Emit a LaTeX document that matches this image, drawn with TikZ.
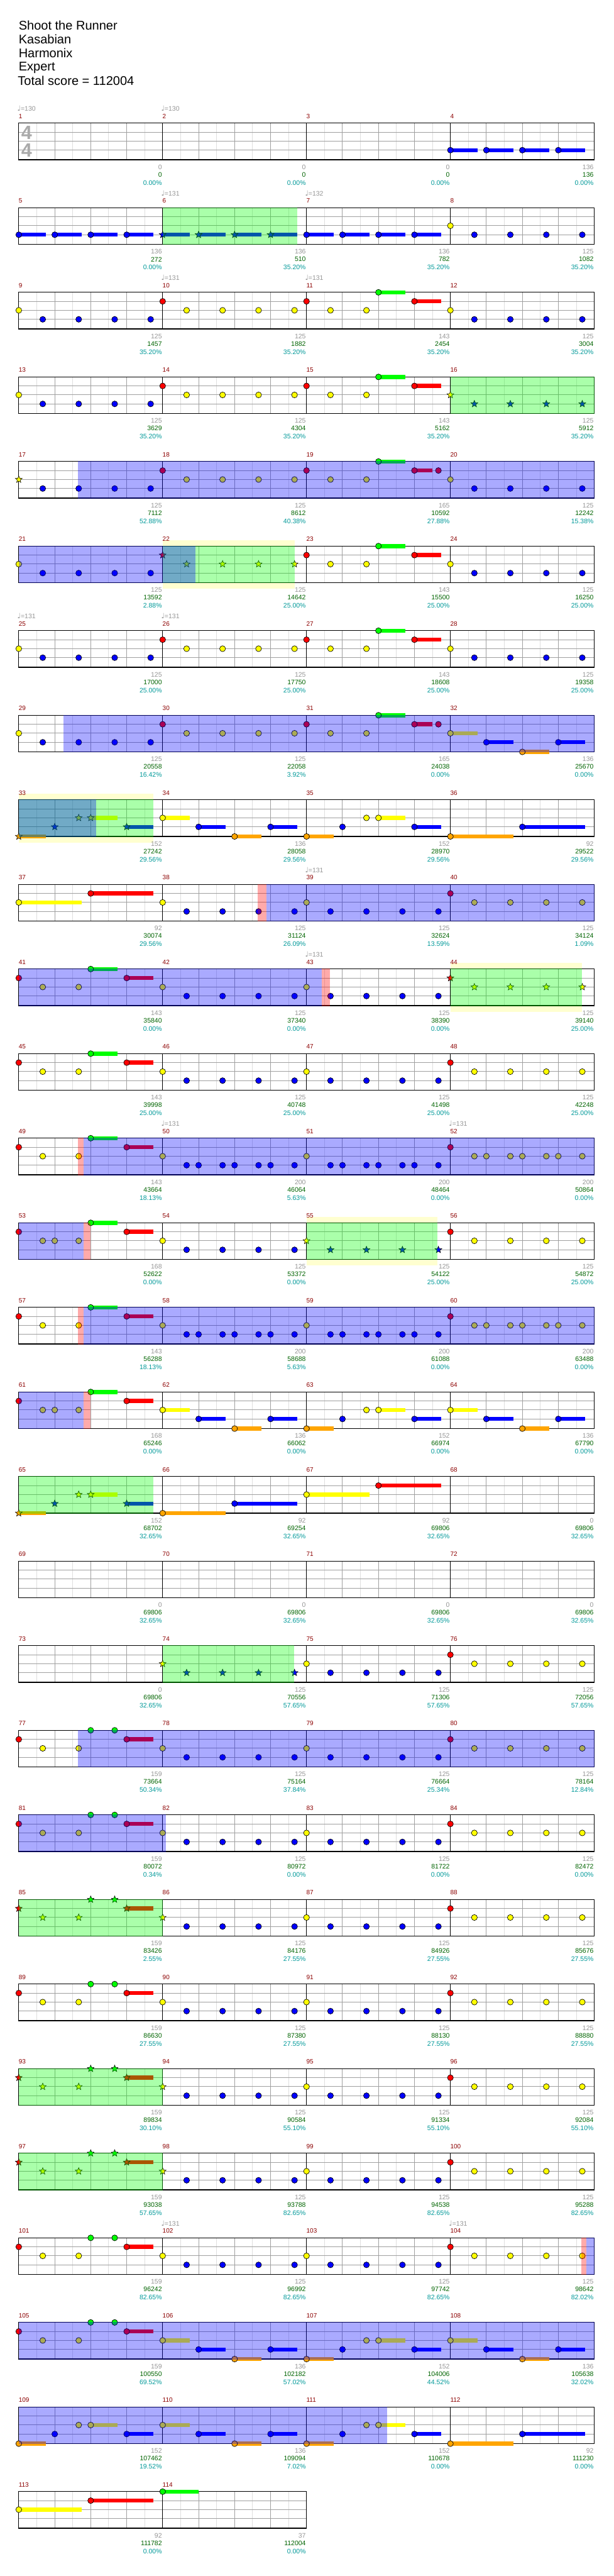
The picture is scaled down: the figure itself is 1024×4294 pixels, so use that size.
\documentclass[tikz,border=0pt]{standalone}
\usepackage{fontspec}
\setmainfont{Liberation Sans}
\newfontfamily\djv{DejaVu Sans}
\usetikzlibrary{shapes.geometric}
\definecolor{lane0}{RGB}{0,255,0}
\definecolor{lane1}{RGB}{255,0,0}
\definecolor{lane2}{RGB}{255,255,0}
\definecolor{lane3}{RGB}{0,0,255}
\definecolor{lane4}{RGB}{255,165,0}
\definecolor{gridg}{RGB}{160,160,160}
\definecolor{gridl}{RGB}{222,222,222}
\definecolor{mnum}{RGB}{140,0,0}
\definecolor{sgray}{RGB}{150,150,150}
\definecolor{sgreen}{RGB}{0,100,0}
\definecolor{steal}{RGB}{0,153,153}
\definecolor{yband}{RGB}{255,255,208}
\definecolor{tsig}{RGB}{170,170,170}
\tikzset{
  sctxt/.style={anchor=east,inner sep=0pt,font=\fontsize{11}{13}\selectfont},
  numtxt/.style={anchor=west,inner sep=0pt,text=mnum,font=\fontsize{10.5}{12}\selectfont},
  tmptxt/.style={anchor=west,inner sep=0pt,text=sgray,font=\fontsize{11}{12}\selectfont},
  ttl/.style={anchor=base west,inner sep=0pt,font=\fontsize{21}{25}\selectfont},
  starnote/.style={star,star points=5,star point ratio=2.3,minimum size=12pt,inner sep=0pt,draw=black,line width=0.6pt},
  ovl/.style={fill opacity=0.3333}
}
\newcommand\qpos[1]{%
  \pgfmathtruncatemacro\mrow{(#1-1)/4}%
  \pgfmathtruncatemacro\mcol{#1-1-4*\mrow}%
  \pgfmathsetmacro\MX{31.3+240*\mcol}%
  \pgfmathsetmacro\MY{205.3+141*\mrow}}
\newcommand\qlane[1]{\ifcase#1\relax\def\LO{0}\or\def\LO{15}\or\def\LO{30}\or\def\LO{45}\else\def\LO{61}\fi}
\newcommand\qnote[4]{%
  \qpos{#1}\qlane{#3}%
  \pgfmathsetmacro\NX{\MX+#2}\pgfmathsetmacro\NY{\MY+\LO}%
  \ifnum#4>0 \fill[lane#3] (\NX,\NY-3.35) rectangle ++(#4,6.7);\fi
  \filldraw[fill=lane#3,draw=black,line width=0.7pt] (\NX,\NY) circle[radius=4.9pt];}
\newcommand\qstar[4]{%
  \qpos{#1}\qlane{#3}%
  \pgfmathsetmacro\NX{\MX+#2}\pgfmathsetmacro\NY{\MY+\LO}%
  \ifnum#4>0 \fill[lane#3] (\NX,\NY-3.35) rectangle ++(#4,6.7);\fi
  \node[starnote,fill=lane#3] at (\NX,\NY) {};}
\newcommand\qnotes[2]{\foreach \px/\pl/\ps in {#2}{\qnote{#1}{\px}{\pl}{\ps}}}
\newcommand\qstars[2]{\foreach \px/\pl/\ps in {#2}{\qstar{#1}{\px}{\pl}{\ps}}}
\newcommand\qPA[1]{\qnotes{#1}{0/2/0,40/3/0,100/3/0,160/3/0,220/3/0}}
\newcommand\qPB[1]{\qnotes{#1}{0/1/0,40/2/0,100/2/0,160/2/0,220/2/0}}
\newcommand\qPC[1]{\qnotes{#1}{0/1/0,40/2/0,100/2/0,120/0/45,180/1/45}}
\newcommand\qPD[1]{\qnotes{#1}{0/1/0,40/2/0,100/2/0,120/0/0,160/0/0,180/1/45}}
\newcommand\qPE[1]{\qnotes{#1}{0/2/45,60/3/45,120/4/45,180/3/45}}
\newcommand\qPF[1]{\qnotes{#1}{0/4/45,60/3/0,100/2/0,120/2/45,180/3/45}}
\newcommand\qPQ[1]{\qnotes{#1}{0/3/45,60/3/45,120/3/45,180/3/45}}
\newcommand\qPG[1]{\qnotes{#1}{0/2/0,40/3/0,60/3/0,100/3/0,120/3/0,160/3/0,180/3/0,220/3/0}}
\newcommand\qPH[1]{\qnotes{#1}{0/1/0,40/2/0,60/2/0,100/2/0,120/2/0,160/2/0,180/2/0,220/2/0}}
\newcommand\qPR[1]{\qnotes{#1}{0/1/0,40/2/0,100/2/0,120/0/45,180/1/30,220/1/0}}
\newcommand\qPS[1]{\qnotes{#1}{0/1/0,40/2/0,60/2/0,100/2/0,120/0/45,180/1/45}}
\newcommand\qPT[1]{\qnotes{#1}{0/4/105,120/3/105}}
\newcommand\qPU[1]{\qnotes{#1}{0/2/105,120/1/105}}
\newcommand\qseg[4]{\qpos{#2}\fill[#1,ovl] (\MX+#3,\MY-0.8) rectangle (\MX+#4,\MY+61.8);}
\newcommand\qyb[3]{\qpos{#1}\fill[yband] (\MX+#2,\MY-10.3) rectangle (\MX+#3,\MY+71.3);}
\begin{document}
\begin{tikzpicture}[x=1pt,y=-1pt]
\useasboundingbox (0,0) rectangle (1024,4294);
\fill[white] (0,0) rectangle (1024,4294);
% title
\node[ttl] (t1) at (31,50) {Shoot the Runner};
\node[ttl] (t2) at (31,72.7) {Kasabian};
\node[ttl] (t3) at (31,95.7) {Harmonix};
\node[ttl] (t4) at (31,118.3) {Expert};
\node[ttl] (t5) at (29.5,141.7) {Total score = 112004};
% yellow bands
\qyb{21}{240}{460.3}
\qyb{33}{0}{224}
\qyb{41}{720}{939}
\qyb{53}{480}{698}
% staves
\foreach \r in {0,...,28}{
  \pgfmathsetmacro\RY{205.3+141*\r}
  \pgfmathtruncatemacro\NM{\r==28 ? 2 : 4}
  \pgfmathsetmacro\RW{240*\NM}
  \pgfmathtruncatemacro\NL{8*\NM-1}
  \pgfmathtruncatemacro\NB{4*\NM-1}
  \pgfmathtruncatemacro\NK{\NM-1}
  \fill[white] (31.3,\RY) rectangle ++(\RW,61);
  \foreach \i in {1,3,...,\NL} \draw[gridl,line width=1pt] (31.3+30*\i,\RY) -- ++(0,61);
  \foreach \k in {15,30,45} \draw[gridg,line width=1pt] (31.3,\RY+\k) -- ++(\RW,0);
  \foreach \j in {1,...,\NB} \draw[gridg,line width=1pt] (31.3+60*\j,\RY) -- ++(0,61);
  \foreach \k in {1,...,\NK} \draw[black,line width=1pt] (31.3+240*\k,\RY) -- ++(0,61);
  \draw[black,line width=1.3pt] (31.3,\RY) rectangle ++(\RW,61);
}
% time signature
\node[inner sep=0pt,text=tsig,font=\bfseries\fontsize{32}{32}\selectfont] (ts1) at (44.5,221) {4};
\node[inner sep=0pt,text=tsig,font=\bfseries\fontsize{32}{32}\selectfont] (ts2) at (44.5,250.5) {4};
% notes
\qPQ{4}
\qPQ{5}\qstars{6}{0/3/45,60/3/45,120/3/45,180/3/45}\qPQ{7}\qPA{8}
\qPA{9}\qPB{10}\qPC{11}\qPA{12}
\qPA{13}\qPB{14}\qPC{15}\qstars{16}{0/2/0,40/3/0,100/3/0,160/3/0,220/3/0}
\qstars{17}{0/2/0}\qnotes{17}{40/3/0,100/3/0,160/3/0,220/3/0}\qPB{18}\qPR{19}\qPA{20}
\qPA{21}\qstars{22}{0/1/0,40/2/0,100/2/0,160/2/0,220/2/0}\qPC{23}\qPA{24}
\qPA{25}\qPB{26}\qPC{27}\qPA{28}
\qPA{29}\qPB{30}\qPR{31}\qPE{32}
\qstars{33}{0/4/45,60/3/0,100/2/0,120/2/45,180/3/45}\qPE{34}\qPF{35}\qPT{36}
\qPU{37}\qPA{38}\qPA{39}\qPB{40}
\qPC{41}\qPA{42}\qPA{43}\qstars{44}{0/1/0,40/2/0,100/2/0,160/2/0,220/2/0}
\qPC{45}\qPA{46}\qPA{47}\qPB{48}
\qPC{49}\qPG{50}\qPG{51}\qPH{52}
\qPS{53}\qPA{54}\qstars{55}{0/2/0,40/3/0,100/3/0,160/3/0,220/3/0}\qPB{56}
\qPC{57}\qPG{58}\qPG{59}\qPH{60}
\qPS{61}\qPE{62}\qPF{63}\qPE{64}
\qstars{65}{0/4/45,60/3/0,100/2/0,120/2/45,180/3/45}\qPT{66}\qPU{67}
\qstars{74}{0/2/0,40/3/0,100/3/0,160/3/0,220/3/0}\qPA{75}\qPB{76}
\qPD{77}\qPA{78}\qPA{79}\qPB{80}
\qPD{81}\qPA{82}\qPA{83}\qPB{84}
\qstars{85}{0/1/0,40/2/0,100/2/0,120/0/0,160/0/0,180/1/45}\qstars{86}{0/2/0}\qnotes{86}{40/3/0,100/3/0,160/3/0,220/3/0}\qPA{87}\qPB{88}
\qPD{89}\qPA{90}\qPA{91}\qPB{92}
\qstars{93}{0/1/0,40/2/0,100/2/0,120/0/0,160/0/0,180/1/45}\qstars{94}{0/2/0}\qnotes{94}{40/3/0,100/3/0,160/3/0,220/3/0}\qPA{95}\qPB{96}
\qstars{97}{0/1/0,40/2/0,100/2/0,120/0/0,160/0/0,180/1/45}\qstars{98}{0/2/0}\qnotes{98}{40/3/0,100/3/0,160/3/0,220/3/0}\qPA{99}\qPB{100}
\qPD{101}\qPA{102}\qPA{103}\qPB{104}
\qPD{105}\qPE{106}\qPF{107}\qPE{108}
\qPF{109}\qPE{110}\qPF{111}\qPT{112}
\qPU{113}\qnotes{114}{0/0/60}
% green overlays
\qseg{lane0}{5}{240}{464.4}
\qseg{lane0}{13}{720}{960}
\qseg{lane0}{21}{240}{460.3}
\qseg{lane0}{33}{0}{224}
\qseg{lane0}{41}{720}{939}
\qseg{lane0}{53}{480}{698}
\qseg{lane0}{65}{0}{224}
\qseg{lane0}{73}{240}{459}
\qseg{lane0}{85}{0}{240}
\qseg{lane0}{93}{0}{240}
\qseg{lane0}{97}{0}{240}
% blue overlays
\qseg{lane3}{17}{98.7}{960}
\qseg{lane3}{21}{0}{294.7}
\qseg{lane3}{29}{74.5}{960}
\qseg{lane3}{33}{0}{128.7}
\qseg{lane3}{37}{413}{960}
\qseg{lane3}{41}{0}{505.5}
\qseg{lane3}{49}{107.8}{960}
\qseg{lane3}{53}{0}{108}
\qseg{lane3}{57}{107.8}{960}
\qseg{lane3}{61}{0}{108}
\qseg{lane3}{77}{98.7}{960}
\qseg{lane3}{81}{0}{245.6}
\qseg{lane3}{101}{946.5}{960}
\qseg{lane3}{105}{0}{960}
\qseg{lane3}{109}{0}{614}
% red overlays
\qseg{lane1}{37}{398.5}{413}
\qseg{lane1}{41}{505.5}{518.6}
\qseg{lane1}{49}{98.7}{107.8}
\qseg{lane1}{53}{108}{120}
\qseg{lane1}{57}{98.7}{107.8}
\qseg{lane1}{61}{108}{120}
\qseg{lane1}{101}{938.7}{946.5}
% measure numbers
\foreach \m in {1,...,114}{\qpos{\m}\node[numtxt] (mn\m) at (\MX-0.3,\MY-11.5) {\m};}
% tempo marks
\foreach \m/\t in {1/130,2/130,6/131,7/132,10/131,11/131,25/131,26/131,39/131,43/131,50/131,52/131,102/131,104/131}{%
  \qpos{\m}\node[tmptxt] (tp\m) at (\MX-2.5,\MY-24.5) {{\djv\fontsize{12}{12}\selectfont ♩}=\t};}
% scores
\foreach \m/\a/\b/\c in {1/0/0/0.00,2/0/0/0.00,3/0/0/0.00,4/136/136/0.00,
5/136/272/0.00,6/136/510/35.20,7/136/782/35.20,8/125/1082/35.20,
9/125/1457/35.20,10/125/1882/35.20,11/143/2454/35.20,12/125/3004/35.20,
13/125/3629/35.20,14/125/4304/35.20,15/143/5162/35.20,16/125/5912/35.20,
17/125/7112/52.88,18/125/8612/40.38,19/165/10592/27.88,20/125/12242/15.38,
21/125/13592/2.88,22/125/14642/25.00,23/143/15500/25.00,24/125/16250/25.00,
25/125/17000/25.00,26/125/17750/25.00,27/143/18608/25.00,28/125/19358/25.00,
29/125/20558/16.42,30/125/22058/3.92,31/165/24038/0.00,32/136/25670/0.00,
33/152/27242/29.56,34/136/28058/29.56,35/152/28970/29.56,36/92/29522/29.56,
37/92/30074/29.56,38/125/31124/26.09,39/125/32624/13.59,40/125/34124/1.09,
41/143/35840/0.00,42/125/37340/0.00,43/125/38390/0.00,44/125/39140/25.00,
45/143/39998/25.00,46/125/40748/25.00,47/125/41498/25.00,48/125/42248/25.00,
49/143/43664/18.13,50/200/46064/5.63,51/200/48464/0.00,52/200/50864/0.00,
53/168/52622/0.00,54/125/53372/0.00,55/125/54122/25.00,56/125/54872/25.00,
57/143/56288/18.13,58/200/58688/5.63,59/200/61088/0.00,60/200/63488/0.00,
61/168/65246/0.00,62/136/66062/0.00,63/152/66974/0.00,64/136/67790/0.00,
65/152/68702/32.65,66/92/69254/32.65,67/92/69806/32.65,68/0/69806/32.65,
69/0/69806/32.65,70/0/69806/32.65,71/0/69806/32.65,72/0/69806/32.65,
73/0/69806/32.65,74/125/70556/57.65,75/125/71306/57.65,76/125/72056/57.65,
77/159/73664/50.34,78/125/75164/37.84,79/125/76664/25.34,80/125/78164/12.84,
81/159/80072/0.34,82/125/80972/0.00,83/125/81722/0.00,84/125/82472/0.00,
85/159/83426/2.55,86/125/84176/27.55,87/125/84926/27.55,88/125/85676/27.55,
89/159/86630/27.55,90/125/87380/27.55,91/125/88130/27.55,92/125/88880/27.55,
93/159/89834/30.10,94/125/90584/55.10,95/125/91334/55.10,96/125/92084/55.10,
97/159/93038/57.65,98/125/93788/82.65,99/125/94538/82.65,100/125/95288/82.65,
101/159/96242/82.65,102/125/96992/82.65,103/125/97742/82.65,104/125/98642/82.02,
105/159/100550/69.52,106/136/102182/57.02,107/152/104006/44.52,108/136/105638/32.02,
109/152/107462/19.52,110/136/109094/7.02,111/152/110678/0.00,112/92/111230/0.00,
113/92/111782/0.00,114/37/112004/0.00}{%
  \qpos{\m}\pgfmathsetmacro\EX{\MX+239}%
  \node[sctxt,text=sgray] (sa\m) at (\EX,\MY+73) {\a};
  \node[sctxt,text=sgreen] (sb\m) at (\EX,\MY+86) {\b};
  \node[sctxt,text=steal] (sc\m) at (\EX,\MY+99.2) {\c\%};
}
\end{tikzpicture}
\end{document}
